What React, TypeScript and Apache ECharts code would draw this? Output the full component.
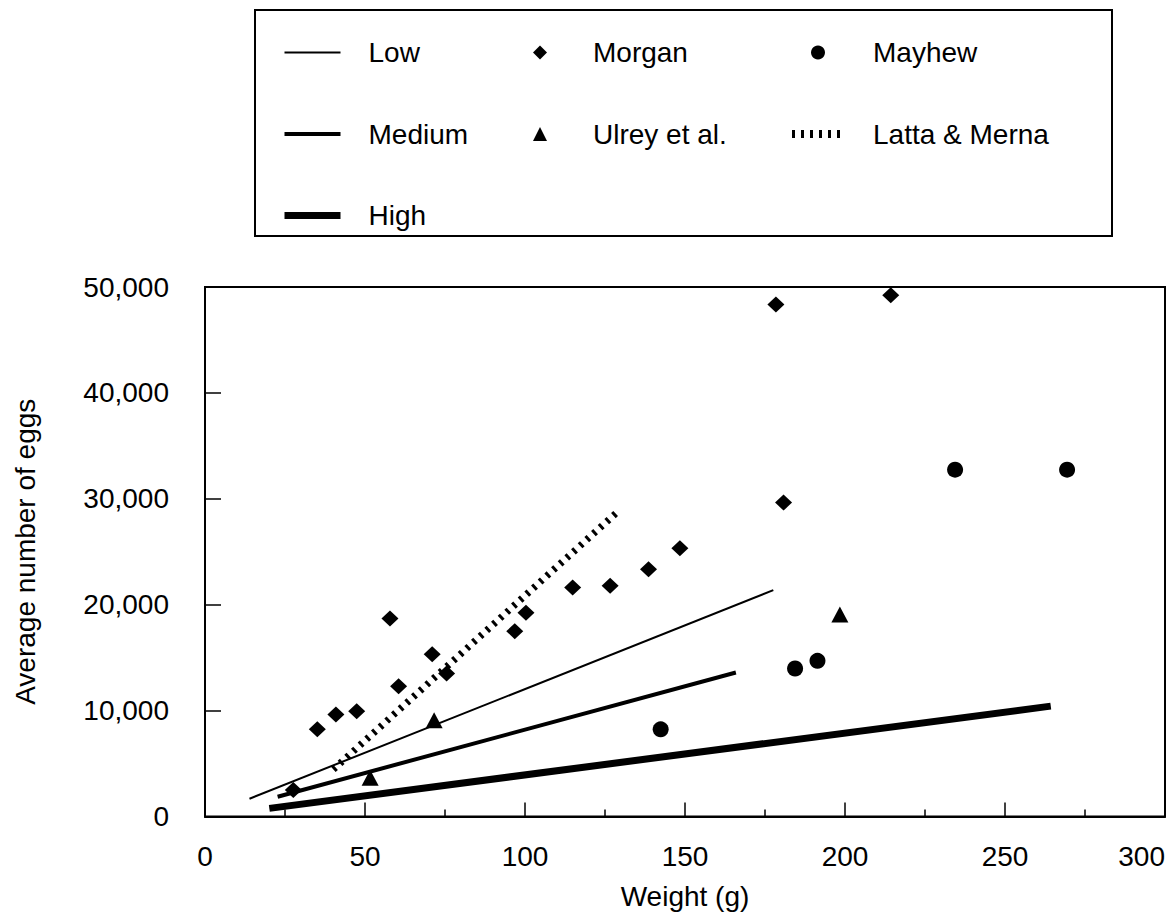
import React, { useEffect, useRef } from "react";
import * as echarts from "echarts";

// ---- data ----
const xTicks = [0, 50, 100, 150, 200, 250, 300];
const yTicks = [0, 10000, 20000, 30000, 40000, 50000];

const morganPts: [number, number][] = [
  [27.6, 2500], [35.1, 8250], [40.9, 9640], [47.4, 9950], [57.8, 18700],
  [60.5, 12300], [71.0, 15330], [75.5, 13500], [96.8, 17500], [100.3, 19230],
  [114.9, 21620], [126.6, 21780], [138.6, 23350], [148.4, 25330],
  [180.8, 29640], [178.4, 48350], [214.3, 49230],
];
const ulreyPts: [number, number][] = [
  [51.6, 3650], [71.6, 9100], [198.4, 19070],
];
const mayhewPts: [number, number][] = [
  [142.4, 8230], [184.4, 13980], [191.4, 14700], [234.4, 32750], [269.4, 32750],
];
const lowLine: [number, number][] = [[13.9, 1680], [177.6, 21370]];
const mediumLine: [number, number][] = [[22.7, 1870], [165.9, 13600]];
const highLine: [number, number][] = [[20.1, 770], [264.3, 10420]];
const lattaLine: [number, number][] = [[40.1, 4450], [129.2, 28850]];

const FONT = "'Liberation Sans', Arial, Helvetica, sans-serif";

export default function App() {
  const ref = useRef<HTMLDivElement>(null);
  useEffect(() => {
    if (!ref.current) return;
    const chart = echarts.init(ref.current, undefined, { renderer: "svg" });
    const textStyle = {
      fontSize: 28,
      fontFamily: FONT,
      color: "#000",
      lineHeight: 28,
    };
    const hidden = { opacity: 0 };
    const legendBase = {
      orient: "vertical" as const,
      top: 38.5,
      itemHeight: 14,
      itemGap: 53.5,
      padding: 0,
      selectedMode: false,
      symbolKeepAspect: true,
      textStyle: { ...textStyle, padding: [0, 0, 0, 23] },
    };
    chart.setOption({
      animation: false,
      backgroundColor: "#fff",
      grid: {
        left: 205,
        right: 5,
        top: 287,
        bottom: 102.5,
        outerBoundsMode: "none",
        containLabel: false,
        show: true,
        borderColor: "#000",
        borderWidth: 2,
        backgroundColor: "transparent",
      },
      legend: [
        {
          ...legendBase,
          left: 281,
          itemWidth: 56,
          data: [
            { name: "Low", lineStyle: { width: 2 }, itemStyle: hidden },
            { name: "Medium", lineStyle: { width: 4 }, itemStyle: hidden },
            { name: "High", lineStyle: { width: 7 }, itemStyle: hidden },
          ],
        },
        {
          ...legendBase,
          left: 533,
          itemWidth: 14,
          textStyle: { ...textStyle, padding: [0, 0, 0, 41] },
          data: ["Morgan", "Ulrey et al."],
        },
        {
          ...legendBase,
          left: 788,
          itemWidth: 52,
          textStyle: { ...textStyle, padding: [0, 0, 0, 24] },
          data: [
            "Mayhew",
            { name: "Latta & Merna", lineStyle: { width: 8 }, itemStyle: hidden },
          ],
        },
      ],
      graphic: [
        {
          type: "rect",
          shape: { x: 255, y: 10, width: 857, height: 226 },
          style: { fill: "none", stroke: "#000", lineWidth: 2 },
          silent: true,
        },
      ],
      xAxis: {
        type: "value",
        min: xTicks[0],
        max: xTicks[xTicks.length - 1],
        interval: 50,
        name: "Weight (g)",
        nameLocation: "middle",
        nameGap: 66,
        nameTextStyle: { ...textStyle },
        axisLine: { show: true, lineStyle: { color: "#000", width: 2 } },
        axisTick: { show: true, inside: true, length: 14, lineStyle: { color: "#000", width: 1.5 } },
        minorTick: { show: true, splitNumber: 2, length: 7, lineStyle: { color: "#000", width: 1.5 } },
        axisLabel: { ...textStyle, margin: 26, alignMaxLabel: "right" },
        splitLine: { show: false },
      },
      yAxis: {
        type: "value",
        min: yTicks[0],
        max: yTicks[yTicks.length - 1],
        interval: 10000,
        name: "Average number of eggs",
        nameLocation: "middle",
        nameGap: 166,
        nameTextStyle: { ...textStyle },
        axisLine: { show: true, lineStyle: { color: "#000", width: 2 } },
        axisTick: { show: true, inside: true, length: 16, lineStyle: { color: "#000", width: 1.5 } },
        axisLabel: {
          ...textStyle,
          margin: 36,
          formatter: (v: number) => v.toLocaleString("en-US"),
        },
        splitLine: { show: false },
      },
      series: [
        {
          name: "Low",
          type: "line",
          data: lowLine,
          symbol: "none",
          lineStyle: { color: "#000", width: 2 },
          itemStyle: { color: "#000" },
        },
        {
          name: "Medium",
          type: "line",
          data: mediumLine,
          symbol: "none",
          lineStyle: { color: "#000", width: 4 },
          itemStyle: { color: "#000" },
        },
        {
          name: "High",
          type: "line",
          data: highLine,
          symbol: "none",
          lineStyle: { color: "#000", width: 7 },
          itemStyle: { color: "#000" },
        },
        {
          name: "Latta & Merna",
          type: "line",
          data: lattaLine,
          symbol: "none",
          lineStyle: { color: "#000", width: 7, type: [3, 6] },
          itemStyle: { color: "#000" },
        },
        {
          name: "Morgan",
          type: "scatter",
          data: morganPts,
          symbol: "diamond",
          symbolSize: [17, 16],
          itemStyle: { color: "#000", opacity: 1 },
        },
        {
          name: "Ulrey et al.",
          type: "scatter",
          data: ulreyPts,
          symbol: "triangle",
          symbolSize: [17, 16],
          itemStyle: { color: "#000", opacity: 1 },
        },
        {
          name: "Mayhew",
          type: "scatter",
          data: mayhewPts,
          symbol: "circle",
          symbolSize: 16,
          itemStyle: { color: "#000", opacity: 1 },
        },
      ],
    });
    return () => chart.dispose();
  }, []);
  return (
    <div
      ref={ref}
      style={{ position: "fixed", left: 0, top: 0, width: 1170, height: 919 }}
    />
  );
}
